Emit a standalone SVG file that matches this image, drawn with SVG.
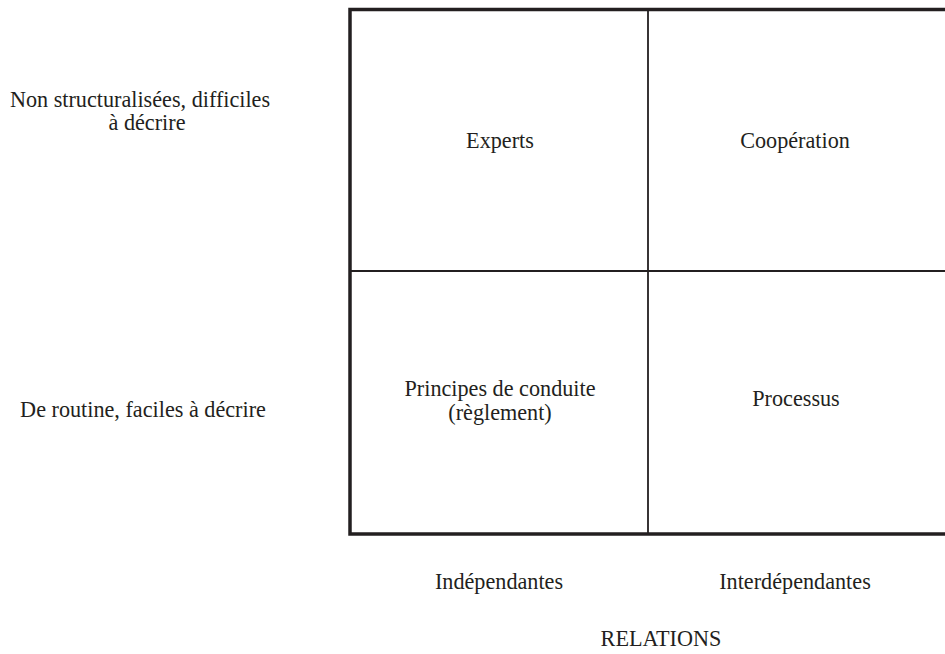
<svg xmlns="http://www.w3.org/2000/svg" width="945" height="654" viewBox="0 0 945 654">
<style>
text{font-family:"Liberation Serif","DejaVu Serif",serif;font-size:22.2px;fill:#231f20;text-anchor:middle}
.outer{stroke:#231f20;stroke-width:3.5;fill:none}
.inner{stroke:#231f20;stroke-width:1.8;fill:none}
</style>
<rect width="945" height="654" fill="#fff"/>
<g id="connectors">
<line class="inner" x1="648" y1="10" x2="648" y2="534"/>
<line class="inner" x1="350" y1="271" x2="945" y2="271"/>
<path class="outer" d="M945,9.5 H350 V534 H945"/>
</g>
<g id="experts"><text x="500" y="148">Experts</text></g>
<g id="cooperation"><text x="795" y="148">Coopération</text></g>
<g id="principes"><text x="500" y="396">Principes de conduite</text><text x="500" y="420">(règlement)</text></g>
<g id="processus"><text x="796" y="406">Processus</text></g>
<g id="row1"><text x="140" y="107">Non structuralisées, difficiles</text><text x="147" y="130">à décrire</text></g>
<g id="row2"><text x="143" y="417">De routine, faciles à décrire</text></g>
<g id="col1"><text x="499" y="589">Indépendantes</text></g>
<g id="col2"><text x="795" y="589">Interdépendantes</text></g>
<g id="axis"><text x="661" y="646">RELATIONS</text></g>
</svg>
